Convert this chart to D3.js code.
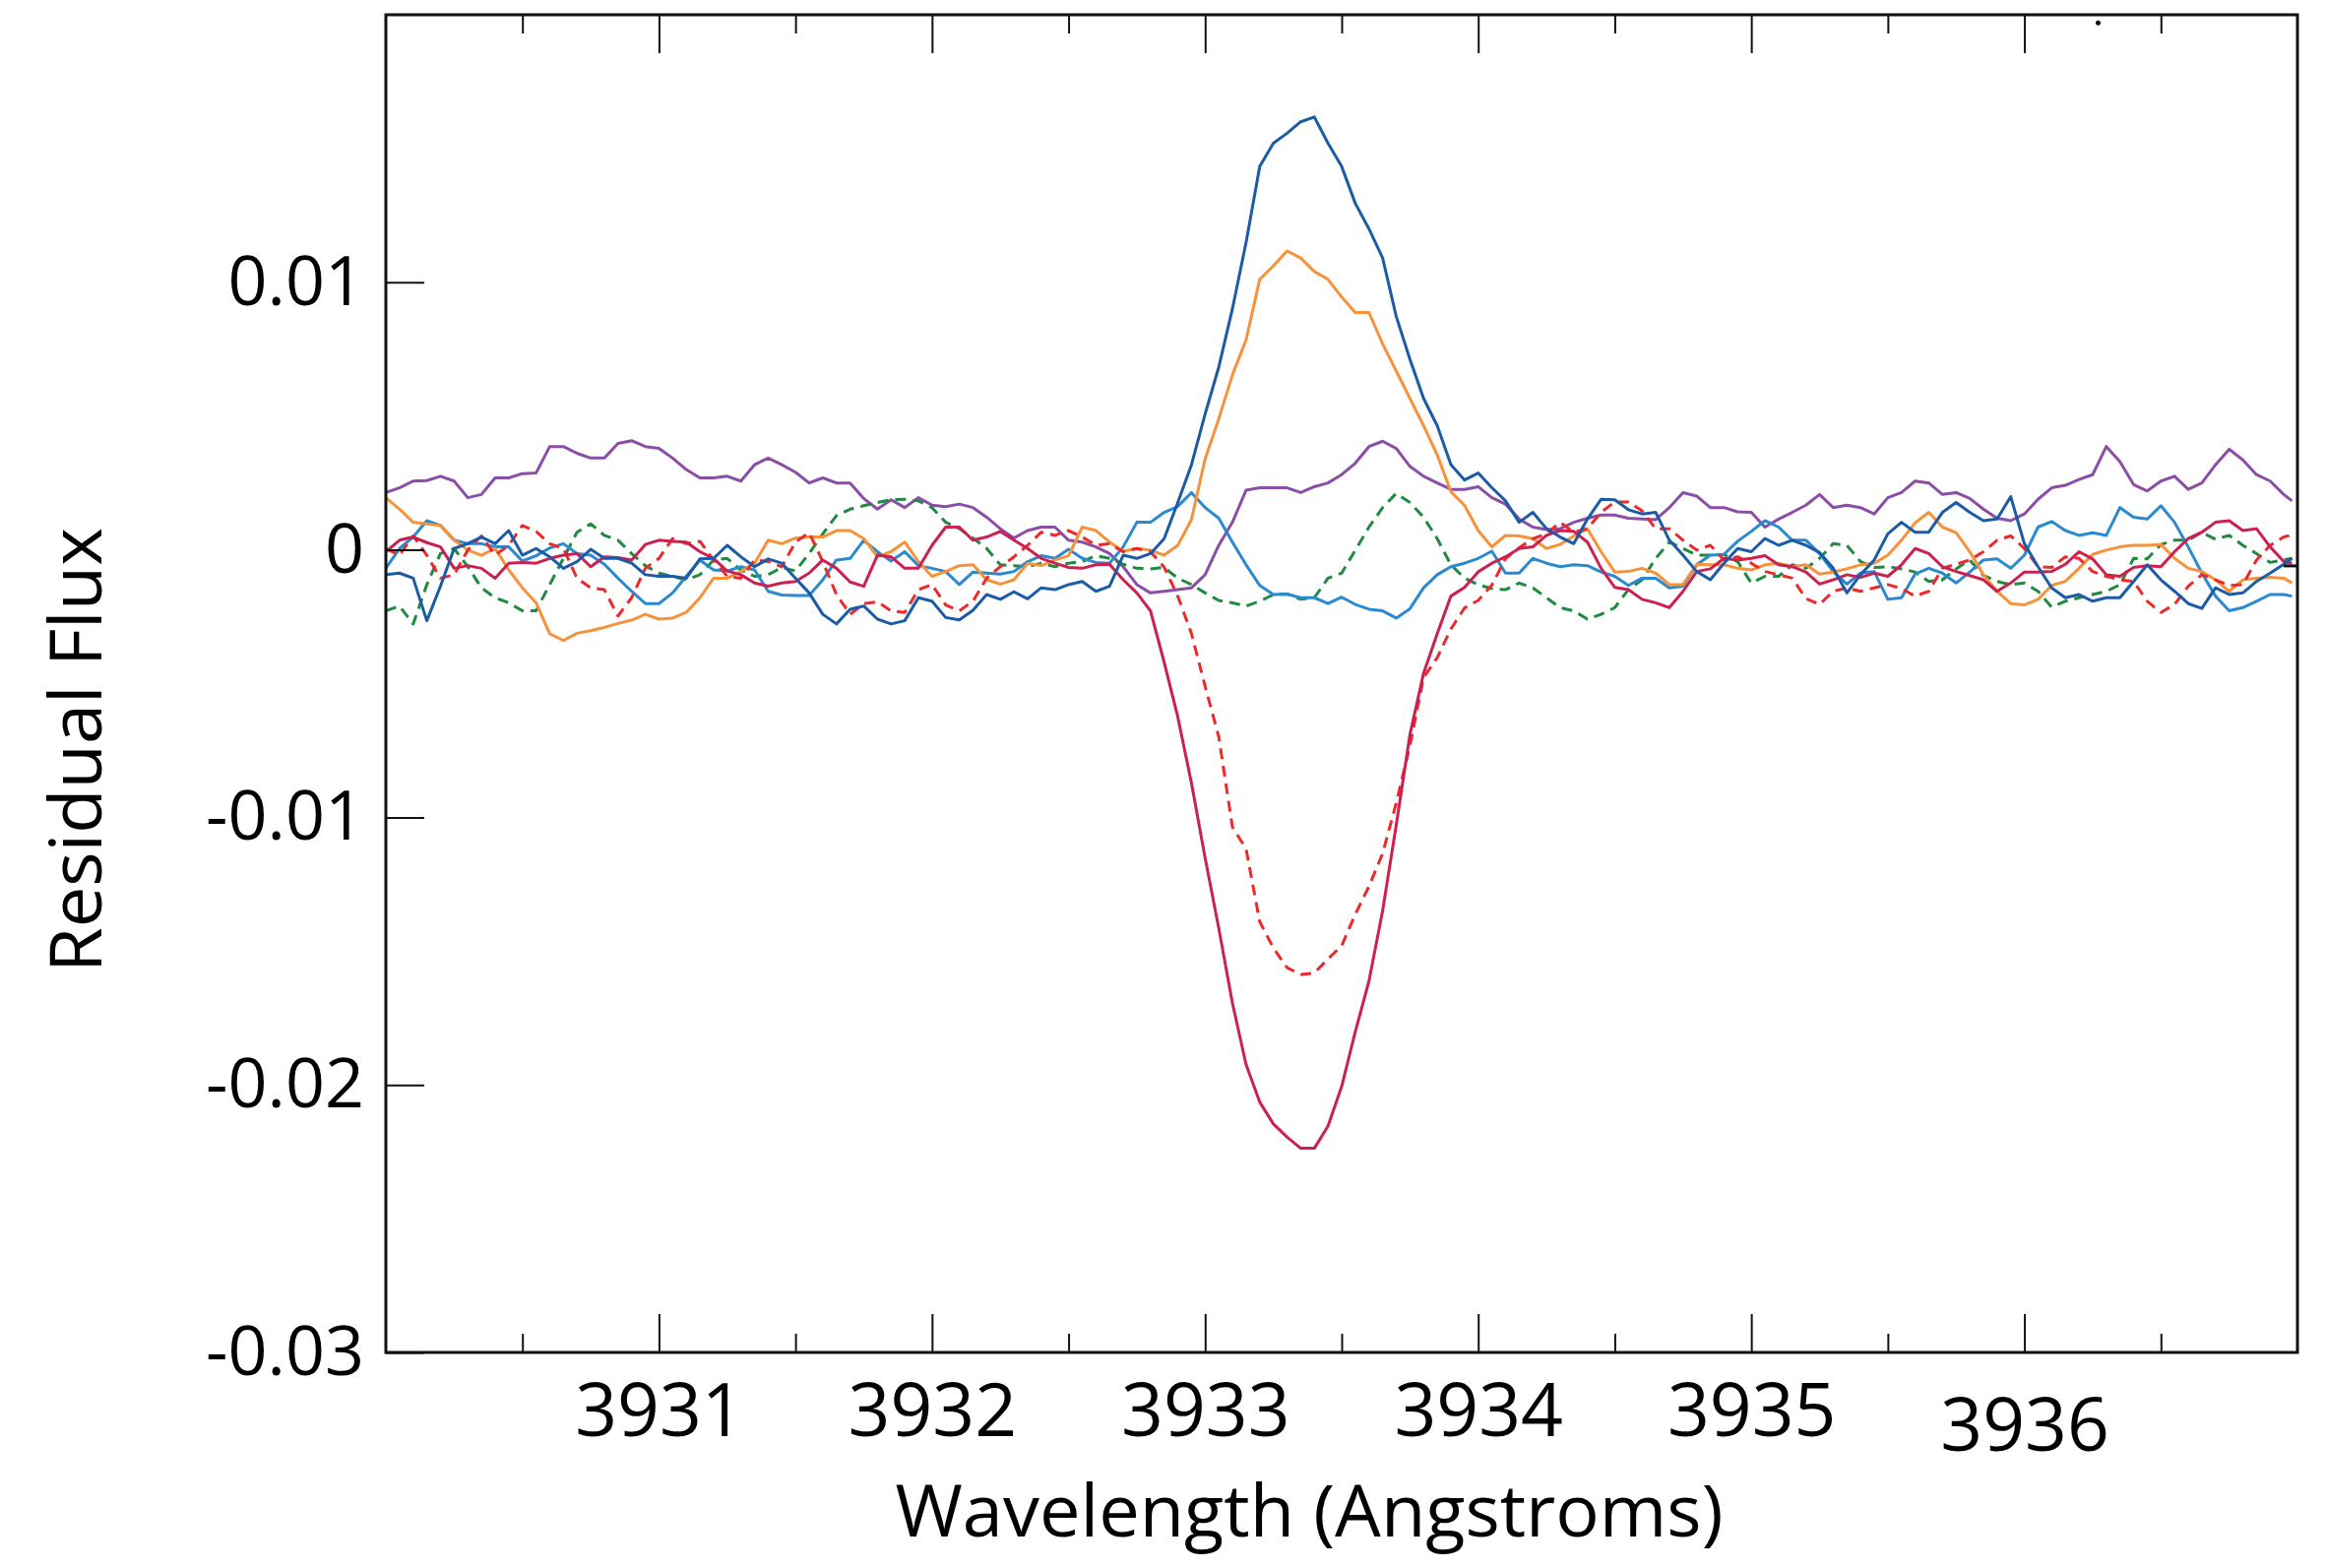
<!DOCTYPE html>
<html><head><meta charset="utf-8">
<script src="https://cdn.jsdelivr.net/npm/d3@7"></script>
<style>
html,body{margin:0;padding:0;background:#fff;}
svg{display:block;font-family:"Open Sans",sans-serif;}
</style></head><body>
<svg id="chart" width="2363" height="1593"></svg>
<script>
// Wavelength sampling (Angstroms)
const wavelength = [
3930,3930.05,3930.1,3930.15,3930.2,3930.25,3930.3,3930.35,3930.4,3930.45,3930.5,3930.55,3930.6,3930.65,3930.7,3930.75,3930.8,3930.85,3930.9,3930.95,
3931,3931.05,3931.1,3931.15,3931.2,3931.25,3931.3,3931.35,3931.4,3931.45,3931.5,3931.55,3931.6,3931.65,3931.7,3931.75,3931.8,3931.85,3931.9,3931.95,
3932,3932.05,3932.1,3932.15,3932.2,3932.25,3932.3,3932.35,3932.4,3932.45,3932.5,3932.55,3932.6,3932.65,3932.7,3932.75,3932.8,3932.85,3932.9,3932.95,
3933,3933.05,3933.1,3933.15,3933.2,3933.25,3933.3,3933.35,3933.4,3933.45,3933.5,3933.55,3933.6,3933.65,3933.7,3933.75,3933.8,3933.85,3933.9,3933.95,
3934,3934.05,3934.1,3934.15,3934.2,3934.25,3934.3,3934.35,3934.4,3934.45,3934.5,3934.55,3934.6,3934.65,3934.7,3934.75,3934.8,3934.85,3934.9,3934.95,
3935,3935.05,3935.1,3935.15,3935.2,3935.25,3935.3,3935.35,3935.4,3935.45,3935.5,3935.55,3935.6,3935.65,3935.7,3935.75,3935.8,3935.85,3935.9,3935.95,
3936,3936.05,3936.1,3936.15,3936.2,3936.25,3936.3,3936.35,3936.4,3936.45,3936.5,3936.55,3936.6,3936.65,3936.7,3936.75,3936.8,3936.85,3936.9,3936.95,
3936.98];

// Residual flux series
const purple = [
0.00214,0.00232,0.00257,0.00259,0.00275,0.00257,0.00195,0.00207,0.00269,0.00269,0.00285,0.00287,0.00386,0.00386,0.00361,0.00343,0.00343,0.00398,0.00408,0.00386,0.00379,0.00343,0.00300,0.00269,0.00269,0.00275,0.00257,0.00318,0.00343,
0.00318,0.00290,0.00250,0.00269,0.00250,0.00250,0.00192,0.00152,0.00187,0.00158,0.00195,0.00167,0.00161,0.00171,0.00158,0.00122,0.00079,0.00044,0.00072,0.00085,0.00085,0.00036,0.00029,0.00011,-0.00014,-0.00063,-0.00130,-0.00161,-0.00155,
-0.00149,-0.00142,-0.00093,0.00017,0.00103,0.00223,0.00232,0.00232,0.00232,0.00214,0.00236,0.00250,0.00281,0.00324,0.00386,0.00406,0.00379,0.00312,0.00275,0.00250,0.00226,0.00226,0.00236,0.00195,0.00171,0.00115,0.00085,0.00076,
0.00079,0.00103,0.00118,0.00130,0.00130,0.00118,0.00115,0.00113,0.00158,0.00214,0.00201,0.00158,0.00158,0.00142,0.00140,0.00085,0.00115,0.00140,0.00167,0.00207,0.00158,0.00167,0.00158,0.00134,0.00195,
0.00214,0.00257,0.00250,0.00207,0.00214,0.00192,0.00152,0.00118,0.00109,0.00134,0.00189,0.00232,0.00241,0.00263,0.00281,0.00386,0.00330,0.00244,0.00220,0.00257,0.00275,0.00226,0.00250,0.00318,0.00376,0.00336,0.00281,0.00257,0.00207,0.00183];

const darkBlue = [
-0.00093,-0.00087,-0.00106,-0.00265,-0.00136,0.00005,0.00023,0.00048,0.00023,0.00072,-0.00020,0.00005,-0.00026,-0.00069,-0.00044,0.00002,-0.00032,-0.00032,-0.00050,-0.00093,-0.00099,-0.00099,-0.00106,-0.00034,-0.00032,0.00017,-0.00026,-0.00063,-0.00034,
-0.00050,-0.00106,-0.00161,-0.00241,-0.00277,-0.00222,-0.00210,-0.00259,-0.00277,-0.00265,-0.00179,-0.00192,-0.00253,-0.00262,-0.00226,-0.00167,-0.00185,-0.00157,-0.00183,-0.00142,-0.00149,-0.00130,-0.00118,-0.00155,-0.00136,-0.00020,-0.00032,-0.00014,0.00042,
0.00177,0.00318,0.00508,0.00683,0.00901,0.01149,0.01433,0.01520,0.01557,0.01600,0.01618,0.01520,0.01433,0.01295,0.01200,0.01091,0.00872,0.00712,0.00566,0.00464,0.00319,0.00261,0.00287,0.00232,0.00183,0.00103,0.00140,0.00079,
0.00048,0.00023,0.00115,0.00189,0.00187,0.00150,0.00134,0.00140,0.00036,-0.00020,-0.00081,-0.00112,-0.00050,0.00005,-0.00007,0.00042,0.00017,0.00036,0.00017,-0.00010,-0.00069,-0.00161,-0.00093,-0.00038,0.00060,
0.00103,0.00066,0.00066,0.00140,0.00177,0.00140,0.00109,0.00115,0.00199,0.00023,-0.00063,-0.00142,-0.00179,-0.00167,-0.00192,-0.00179,-0.00179,-0.00118,-0.00056,-0.00112,-0.00155,-0.00201,-0.00219,-0.00142,-0.00167,-0.00161,-0.00118,-0.00087,-0.00054,-0.00032];

const orange = [
0.00195,0.00152,0.00103,0.00097,0.00091,0.00036,-0.00001,-0.00020,0.00005,-0.00075,-0.00142,-0.00198,-0.00314,-0.00339,-0.00312,-0.00302,-0.00290,-0.00275,-0.00263,-0.00241,-0.00259,-0.00255,-0.00234,-0.00179,-0.00106,-0.00106,-0.00081,-0.00050,0.00036,
0.00023,0.00044,0.00048,0.00048,0.00072,0.00072,0.00042,-0.00026,-0.00007,0.00029,-0.00044,-0.00099,-0.00081,-0.00059,-0.00056,-0.00112,-0.00128,-0.00112,-0.00050,-0.00059,-0.00038,-0.00022,0.00085,0.00072,0.00029,-0.00005,0.00005,-0.00001,-0.00020,
0.00017,0.00113,0.00340,0.00490,0.00654,0.00785,0.01011,0.01062,0.01117,0.01091,0.01040,0.01011,0.00945,0.00887,0.00887,0.00770,0.00668,0.00566,0.00464,0.00355,0.00217,0.00166,0.00072,0.00011,0.00054,0.00052,0.00042,0.00005,
0.00020,0.00052,0.00079,-0.00007,-0.00083,-0.00081,-0.00069,-0.00087,-0.00130,-0.00130,-0.00054,-0.00056,-0.00056,-0.00069,-0.00075,-0.00056,-0.00050,-0.00063,-0.00056,-0.00091,-0.00083,-0.00071,-0.00056,-0.00050,-0.00020,
0.00036,0.00101,0.00140,0.00085,0.00064,-0.00007,-0.00093,-0.00155,-0.00201,-0.00206,-0.00185,-0.00133,-0.00118,-0.00069,-0.00017,-0.00001,0.00011,0.00017,0.00017,0.00020,-0.00032,-0.00069,-0.00081,-0.00112,-0.00155,-0.00112,-0.00106,-0.00103,-0.00106,-0.00124];

const lightBlue = [
-0.00069,0.00005,0.00048,0.00109,0.00091,0.00036,0.00023,0.00023,0.00011,0.00011,-0.00042,-0.00022,0.00007,0.00023,-0.00014,-0.00020,-0.00054,-0.00106,-0.00155,-0.00201,-0.00201,-0.00161,-0.00099,-0.00038,-0.00075,-0.00079,-0.00063,-0.00075,-0.00155,
-0.00169,-0.00171,-0.00171,-0.00112,-0.00038,-0.00032,0.00036,-0.00007,-0.00042,-0.00007,-0.00059,-0.00069,-0.00081,-0.00130,-0.00083,-0.00087,-0.00091,-0.00081,-0.00044,-0.00022,-0.00032,0.00002,-0.00032,-0.00047,-0.00050,0.00011,0.00103,0.00103,0.00140,
0.00162,0.00214,0.00158,0.00118,0.00029,-0.00056,-0.00133,-0.00167,-0.00165,-0.00179,-0.00179,-0.00201,-0.00177,-0.00204,-0.00222,-0.00228,-0.00255,-0.00220,-0.00142,-0.00093,-0.00063,-0.00050,-0.00032,-0.00005,-0.00087,-0.00087,-0.00032,-0.00050,
-0.00063,-0.00056,-0.00059,-0.00083,-0.00099,-0.00133,-0.00106,-0.00106,-0.00142,-0.00136,-0.00056,-0.00020,-0.00017,0.00032,0.00069,0.00109,0.00085,0.00036,0.00036,-0.00014,-0.00081,-0.00128,-0.00087,-0.00081,-0.00185,
-0.00179,-0.00090,-0.00069,-0.00087,-0.00124,-0.00083,-0.00038,-0.00034,-0.00069,-0.00020,0.00085,0.00106,0.00072,0.00054,0.00064,0.00054,0.00158,0.00122,0.00115,0.00165,0.00103,0.00011,-0.00087,-0.00173,-0.00228,-0.00216,-0.00192,-0.00167,-0.00167,-0.00173];

const crimson = [
-0.00007,0.00036,0.00048,0.00027,0.00011,-0.00069,-0.00059,-0.00069,-0.00106,-0.00050,-0.00047,-0.00050,-0.00032,-0.00020,-0.00014,-0.00063,-0.00026,-0.00029,-0.00038,0.00020,0.00036,0.00032,0.00029,-0.00007,-0.00032,-0.00079,-0.00093,-0.00124,-0.00136,
-0.00124,-0.00118,-0.00087,-0.00038,-0.00069,-0.00120,-0.00136,-0.00020,-0.00026,-0.00069,-0.00069,0.00017,0.00085,0.00085,0.00036,0.00048,0.00069,0.00036,0.00005,-0.00032,-0.00050,-0.00066,-0.00069,-0.00056,-0.00054,-0.00112,-0.00161,-0.00228,-0.00420,
-0.00625,-0.00872,-0.01151,-0.01414,-0.01694,-0.01924,-0.02064,-0.02146,-0.02195,-0.02237,-0.02237,-0.02154,-0.02006,-0.01801,-0.01612,-0.01349,-0.01028,-0.00691,-0.00461,-0.00313,-0.00173,-0.00140,-0.00082,-0.00050,-0.00026,0.00005,0.00011,0.00054,
0.00072,0.00069,0.00029,-0.00069,-0.00140,-0.00149,-0.00185,-0.00198,-0.00216,-0.00155,-0.00081,-0.00071,-0.00032,-0.00038,-0.00032,-0.00022,-0.00056,-0.00063,-0.00083,-0.00128,-0.00112,-0.00093,-0.00103,-0.00087,-0.00099,
-0.00056,0.00005,-0.00014,-0.00063,-0.00081,-0.00096,-0.00112,-0.00155,-0.00124,-0.00083,-0.00083,-0.00081,-0.00054,-0.00007,-0.00034,-0.00093,-0.00099,-0.00066,-0.00059,-0.00063,-0.00007,0.00042,0.00066,0.00103,0.00109,0.00072,0.00079,0.00011,-0.00044,-0.00050];

const redDashed = [
0.00005,-0.00020,0.00052,-0.00020,-0.00106,-0.00093,-0.00001,0.00052,-0.00020,0.00017,0.00091,0.00069,0.00023,0.00005,-0.00106,-0.00142,-0.00149,-0.00247,-0.00179,-0.00069,-0.00032,0.00042,0.00023,0.00032,-0.00038,-0.00099,-0.00106,-0.00038,-0.00044,
-0.00063,0.00029,0.00064,-0.00044,-0.00167,-0.00241,-0.00201,-0.00194,-0.00228,-0.00234,-0.00149,-0.00130,-0.00206,-0.00228,-0.00192,-0.00106,-0.00063,-0.00026,0.00017,0.00066,0.00054,0.00072,0.00048,0.00017,0.00023,-0.00007,0.00005,-0.00007,-0.00065,
-0.00173,-0.00313,-0.00510,-0.00699,-0.01036,-0.01118,-0.01390,-0.01488,-0.01562,-0.01587,-0.01582,-0.01529,-0.01480,-0.01362,-0.01258,-0.01135,-0.00946,-0.00732,-0.00477,-0.00403,-0.00296,-0.00217,-0.00189,-0.00132,-0.00033,0.00008,0.00041,0.00060,
0.00103,0.00066,0.00079,0.00140,0.00179,0.00179,0.00146,0.00079,0.00079,0.00036,-0.00001,0.00017,-0.00038,-0.00026,-0.00050,-0.00081,-0.00093,-0.00106,-0.00182,-0.00204,-0.00155,-0.00142,-0.00155,-0.00142,-0.00130,
-0.00145,-0.00173,-0.00155,-0.00069,-0.00054,-0.00038,-0.00007,0.00036,0.00052,0.00005,-0.00063,-0.00066,-0.00026,-0.00032,-0.00081,-0.00099,-0.00112,-0.00118,-0.00192,-0.00234,-0.00204,-0.00136,-0.00093,-0.00112,-0.00133,-0.00130,-0.00038,0.00017,0.00048,0.00056];

const greenDashed = [
-0.00228,-0.00210,-0.00277,-0.00130,-0.00014,0.00005,-0.00063,-0.00142,-0.00179,-0.00198,-0.00228,-0.00228,-0.00130,-0.00032,0.00066,0.00097,0.00054,0.00036,-0.00014,-0.00059,-0.00087,-0.00099,-0.00112,-0.00093,-0.00038,-0.00032,-0.00075,-0.00099,-0.00093,
-0.00066,-0.00079,-0.00014,0.00060,0.00128,0.00152,0.00165,0.00177,0.00187,0.00189,0.00183,0.00158,0.00103,0.00079,0.00044,0.00005,-0.00056,-0.00059,-0.00063,-0.00050,-0.00063,-0.00050,-0.00044,-0.00022,-0.00032,-0.00054,-0.00069,-0.00071,-0.00066,
-0.00106,-0.00130,-0.00161,-0.00189,-0.00198,-0.00210,-0.00192,-0.00167,-0.00165,-0.00185,-0.00179,-0.00106,-0.00087,-0.00001,0.00085,0.00158,0.00211,0.00177,0.00122,0.00042,-0.00056,-0.00106,-0.00130,-0.00145,-0.00149,-0.00124,-0.00142,-0.00179,
-0.00216,-0.00228,-0.00259,-0.00241,-0.00216,-0.00149,-0.00112,-0.00032,0.00029,0.00005,-0.00020,-0.00020,-0.00017,-0.00044,-0.00124,-0.00099,-0.00099,-0.00056,-0.00069,-0.00032,0.00023,0.00017,-0.00044,-0.00066,-0.00063,
-0.00071,-0.00083,-0.00118,-0.00112,-0.00071,-0.00038,-0.00096,-0.00118,-0.00130,-0.00124,-0.00155,-0.00214,-0.00192,-0.00179,-0.00167,-0.00155,-0.00130,-0.00032,-0.00034,0.00020,0.00036,0.00036,0.00066,0.00039,0.00054,0.00017,-0.00014,-0.00047,-0.00038,-0.00032];

// Axis ticks
const xMajorTicks = [3931, 3932, 3933, 3934, 3935, 3936];
const xMinorTicks = [3930.5, 3931.5, 3932.5, 3933.5, 3934.5, 3935.5, 3936.5];
const yTicks = [0.01, 0, -0.01, -0.02, -0.03];
const yTickLabels = ["0.01", "0", "-0.01", "-0.02", "-0.03"];
const xTitle = "Wavelength (Angstroms)";
const yTitle = "Residual Flux";

const seriesList = [
  {name: "purple", values: purple, color: "#8b4ea6", dash: null},
  {name: "green", values: greenDashed, color: "#1f8a40", dash: "11,7"},
  {name: "lightBlue", values: lightBlue, color: "#2a8ad0", dash: null},
  {name: "orange", values: orange, color: "#f7923a", dash: null},
  {name: "redDashed", values: redDashed, color: "#ec2a2c", dash: "11,7"},
  {name: "crimson", values: crimson, color: "#cc2150", dash: null},
  {name: "darkBlue", values: darkBlue, color: "#1c5ba6", dash: null}
];

const svg = d3.select("#chart");
const L = 392, R = 2334, T = 15, B = 1374;
const x = d3.scaleLinear().domain([3930, 3937]).range([L, R]);
const y = d3.scaleLinear().domain([-0.03, 0.02]).range([B, T]);

svg.append("defs").append("clipPath").attr("id", "plotclip")
  .append("rect").attr("x", L).attr("y", T).attr("width", R - L).attr("height", B - T);

// Lines
const line = d3.line().x((d, i) => x(wavelength[i])).y(d => y(d)).curve(d3.curveLinear);
const g = svg.append("g").attr("clip-path", "url(#plotclip)");
seriesList.forEach(s => {
  g.append("path").datum(s.values)
    .attr("d", line)
    .attr("fill", "none")
    .attr("stroke", s.color)
    .attr("stroke-width", 3)
    .attr("stroke-linejoin", "round")
    .attr("stroke-dasharray", s.dash);
});

// Axes (inward ticks)
function styleAxis(sel) {
  sel.select(".domain").remove();
  sel.selectAll(".tick line").attr("stroke", "#111").attr("stroke-width", 2);
}
const xMajor = svg.append("g").attr("transform", `translate(0,${B})`)
  .call(d3.axisBottom(x).tickValues(xMajorTicks).tickSize(-39).tickSizeOuter(0).tickPadding(32).tickFormat(d3.format("d")));
styleAxis(xMajor);
xMajor.selectAll("text").attr("font-size", 75).attr("fill", "#000").attr("font-family", "Open Sans, sans-serif")
  .attr("dy", d => d === 3936 ? "0.9em" : "0.71em");
const xMinor = svg.append("g").attr("transform", `translate(0,${B})`)
  .call(d3.axisBottom(x).tickValues(xMinorTicks).tickSize(-19).tickSizeOuter(0).tickFormat(""));
styleAxis(xMinor);
const xTopMajor = svg.append("g").attr("transform", `translate(0,${T})`)
  .call(d3.axisTop(x).tickValues(xMajorTicks).tickSize(-39).tickSizeOuter(0).tickFormat(""));
styleAxis(xTopMajor);
const xTopMinor = svg.append("g").attr("transform", `translate(0,${T})`)
  .call(d3.axisTop(x).tickValues(xMinorTicks).tickSize(-19).tickSizeOuter(0).tickFormat(""));
styleAxis(xTopMinor);

const yAxis = svg.append("g").attr("transform", `translate(${L},0)`)
  .call(d3.axisLeft(y).tickValues(yTicks).tickSize(-39).tickSizeOuter(0).tickPadding(22)
    .tickFormat((d, i) => yTickLabels[i]));
styleAxis(yAxis);
yAxis.selectAll("text").attr("font-size", 70).attr("fill", "#000").attr("font-family", "Open Sans, sans-serif");

// Frame
svg.append("rect").attr("x", L).attr("y", T).attr("width", R - L).attr("height", B - T)
  .attr("fill", "none").attr("stroke", "#111").attr("stroke-width", 3);

// small marks seen on right edge / top-right
svg.append("line").attr("x1", R - 14).attr("x2", R).attr("y1", y(-0.0006)).attr("y2", y(-0.0006))
  .attr("stroke", "#111").attr("stroke-width", 3);
svg.append("circle").attr("cx", x(3936.27)).attr("cy", y(0.0197)).attr("r", 2.5).attr("fill", "#111");

// Titles
svg.append("text").attr("x", 1330).attr("y", 1561).attr("text-anchor", "middle")
  .attr("font-size", 74).attr("fill", "#000").text(xTitle);
svg.append("text").attr("transform", "translate(103,762) rotate(-90)").attr("text-anchor", "middle")
  .attr("font-size", 74).attr("fill", "#000").text(yTitle);
</script>
</body></html>
